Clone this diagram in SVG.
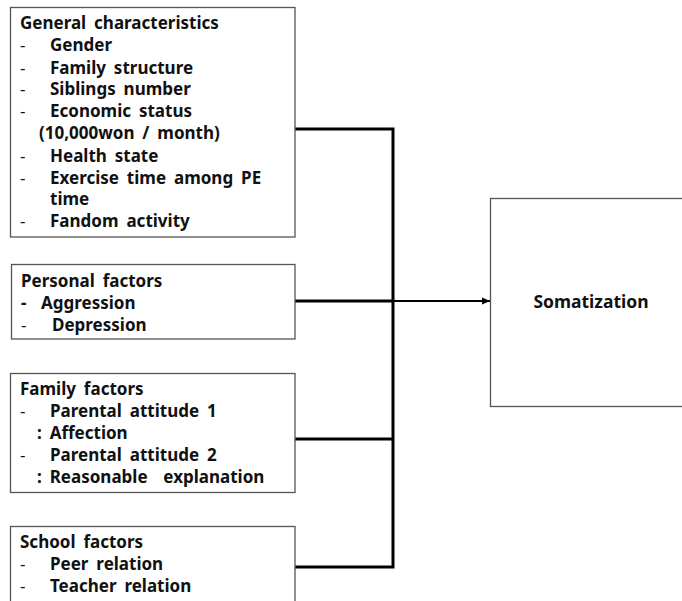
<svg xmlns="http://www.w3.org/2000/svg" width="682" height="601" viewBox="0 0 682 601">
<defs>
<style>
.box{fill:#fff;stroke:#555;stroke-width:1.3}
text{font-family:"Noto Sans","Open Sans",sans-serif;font-weight:bold;font-size:17px;word-spacing:3.5px;fill:#111}
.d{font-weight:normal}
.thick{stroke:#000;stroke-width:3;fill:none}
.thin{stroke:#000;stroke-width:2;fill:none}
</style>
<marker id="arr" markerWidth="8" markerHeight="8" refX="8" refY="4" orient="auto" markerUnits="userSpaceOnUse">
<path d="M0,0.5 L8,4 L0,7.5 Z" fill="#000"/>
</marker>
</defs>
<rect width="682" height="601" fill="#fff"/>
<g id="connectors">
<path class="thick" d="M295,129 H393 M295,301 H393 M295,439 H393 M295,567 H393 M393,127.5 V568.5"/>
<path class="thin" d="M393,301 H490" marker-end="url(#arr)"/>
</g>
<g id="general">
<rect class="box" x="10.5" y="7.5" width="284.5" height="229.5"/>
<text x="20" y="29">General characteristics</text>
<text class="d" x="20" y="51">-</text><text x="50" y="51">Gender</text>
<text class="d" x="20" y="74">-</text><text x="50" y="74">Family structure</text>
<text class="d" x="20" y="95">-</text><text x="50" y="95">Siblings number</text>
<text class="d" x="20" y="117">-</text><text x="50" y="117">Economic status</text>
<text x="39" y="139">(10,000won / month)</text>
<text class="d" x="20" y="162">-</text><text x="50" y="162">Health state</text>
<text class="d" x="20" y="184">-</text><text x="50" y="184">Exercise time among PE</text>
<text x="50" y="205">time</text>
<text class="d" x="20" y="227">-</text><text x="50" y="227">Fandom activity</text>
</g>
<g id="personal">
<rect class="box" x="11.5" y="264.5" width="283.5" height="74.5"/>
<text x="21" y="287">Personal factors</text>
<text x="21" y="309">-</text><text x="41" y="309">Aggression</text>
<text class="d" x="21" y="331">-</text><text x="52" y="331">Depression</text>
</g>
<g id="family">
<rect class="box" x="10.5" y="373.5" width="284.5" height="119"/>
<text x="20" y="395">Family factors</text>
<text class="d" x="20" y="417">-</text><text x="50" y="417">Parental attitude 1</text>
<text x="37" y="439">: Affection</text>
<text class="d" x="20" y="461">-</text><text x="50" y="461">Parental attitude 2</text>
<text x="37" y="483" xml:space="preserve">: Reasonable  explanation</text>
</g>
<g id="school">
<rect class="box" x="10.5" y="526.5" width="284.5" height="80"/>
<text x="20" y="548">School factors</text>
<text class="d" x="20" y="570">-</text><text x="50" y="570">Peer relation</text>
<text class="d" x="20" y="592">-</text><text x="50" y="592">Teacher relation</text>
</g>
<g id="somatization">
<rect class="box" x="490.5" y="198.5" width="200" height="208"/>
<text x="591" y="308" text-anchor="middle" style="font-size:17.5px">Somatization</text>
</g>
</svg>
